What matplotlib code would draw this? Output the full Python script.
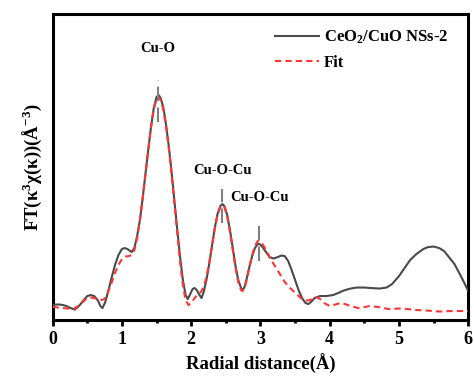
import matplotlib
matplotlib.use("Agg")
import matplotlib.pyplot as plt

plt.rcParams['font.family'] = ['Liberation Serif', 'DejaVu Serif']
plt.rcParams['font.weight'] = 'bold'
plt.rcParams['mathtext.default'] = 'regular'

# Radial distance (Å) and FT magnitude (arbitrary units)
r_exp = [0.0, 0.05, 0.1, 0.15, 0.2, 0.26, 0.32, 0.38, 0.45, 0.5, 0.55, 0.6, 0.65, 0.69, 0.72,
         0.76, 0.8, 0.85, 0.9, 0.95, 1.0, 1.04, 1.08, 1.12, 1.14, 1.18, 1.22, 1.26, 1.30,
         1.34, 1.38, 1.42, 1.46, 1.50, 1.53, 1.56, 1.60, 1.64, 1.68, 1.72, 1.76, 1.80, 1.84,
         1.88, 1.92, 1.95, 1.98, 2.02, 2.05, 2.08, 2.12, 2.15, 2.18, 2.22, 2.26, 2.30, 2.34,
         2.38, 2.42, 2.45, 2.48, 2.52, 2.56, 2.60, 2.64, 2.68, 2.72, 2.74, 2.77, 2.80, 2.84,
         2.88, 2.92, 2.96, 2.99, 3.03, 3.08, 3.13, 3.19, 3.25, 3.30, 3.35, 3.40, 3.45, 3.50,
         3.55, 3.60, 3.65, 3.69, 3.73, 3.78, 3.86, 3.95, 4.05, 4.12, 4.2, 4.3, 4.39, 4.5,
         4.6, 4.72, 4.82, 4.9, 5.0, 5.08, 5.16, 5.25, 5.35, 5.42, 5.5, 5.58, 5.65, 5.72,
         5.8, 5.9, 6.0]
ft_exp = [15, 15.5, 15.5, 15, 14, 12, 10.5, 14, 20, 24, 25, 24, 20, 14, 12,
          18, 28, 42, 55, 65, 71, 72, 71, 69, 68, 72, 84, 100, 122,
          146, 170, 193, 212, 223, 225, 222, 212, 194, 172, 146, 118, 90, 63,
          40, 25, 21, 25, 31, 32, 30, 25, 22, 28, 40, 56, 74, 92,
          106, 114, 116, 114, 105, 90, 72, 54, 40, 32, 30, 33, 41, 53,
          64, 72, 76, 76, 73, 68, 63, 61.5, 63, 64.5, 64, 59, 50, 40,
          30, 22, 17, 16, 18, 22, 24, 24, 25, 27, 29.5, 31.5, 32.5, 32.5,
          32, 31.5, 32.5, 36, 44, 52, 60, 66, 71, 73, 73.5, 72, 69, 63,
          56, 43, 29]

r_fit = [0.0, 0.08, 0.15, 0.22, 0.3, 0.37, 0.45, 0.5, 0.55, 0.6, 0.65, 0.7, 0.75, 0.8,
         0.85, 0.9, 0.95, 1.0, 1.05, 1.1, 1.14, 1.18, 1.22, 1.26, 1.30, 1.34, 1.38, 1.42,
         1.46, 1.50, 1.53, 1.56, 1.60, 1.64, 1.68, 1.72, 1.76, 1.80, 1.84, 1.88, 1.92, 1.96,
         2.0, 2.05, 2.1, 2.14, 2.18, 2.22, 2.26, 2.30, 2.34, 2.38, 2.42, 2.45, 2.48, 2.52,
         2.56, 2.60, 2.64, 2.68, 2.72, 2.74, 2.77, 2.80, 2.84, 2.88, 2.92, 2.96, 2.99, 3.03,
         3.08, 3.14, 3.2, 3.28, 3.35, 3.43, 3.52, 3.6, 3.66, 3.72, 3.77, 3.81, 3.86, 3.92,
         4.0, 4.08, 4.15, 4.22, 4.3, 4.41, 4.5, 4.58, 4.7, 4.85, 5.0, 5.12, 5.26, 5.4,
         5.59, 5.75, 5.93, 6.0]
ft_fit = [13, 12.5, 12, 11.5, 11, 14, 19, 22, 22.5, 22, 21, 20, 21, 28,
          37, 47, 55, 61, 63.5, 64, 65, 70, 82, 100, 122, 146, 170, 193,
          211, 221, 223, 220, 210, 192, 170, 144, 115, 86, 58, 35, 20, 15,
          17, 22, 26, 28, 33, 43, 57, 74, 91, 105, 113, 115, 113, 104,
          88, 70, 52, 38, 30, 29, 32, 40, 53, 65, 74, 79, 79, 76,
          70, 62, 55, 46, 38, 32, 26, 21, 19.5, 20, 22, 23, 21, 17,
          14, 15.5, 17, 16, 14, 12, 13, 14, 13, 11, 11.5, 11, 10, 9.5,
          8.5, 9, 9, 9]

# Peak markers: position, low and high of marker, label, label position
mark_r = [1.52, 2.45, 2.98]
mark_lo = [198, 97, 59]
mark_hi = [240, 131, 94]
lab_text = ['Cu-O', 'Cu-O-Cu', 'Cu-O-Cu']
lab_r = [1.515, 2.445, 2.99]
lab_y = [272, 150, 123]

fig = plt.figure(figsize=(4.74, 3.81), dpi=100)
ax = fig.add_axes([0.111, 0.160, 0.877, 0.803])

ax.plot(r_exp, ft_exp, color='#4a4a4a', lw=1.5, label='CeO$_2$/CuO NSs-2', zorder=3)
ax.plot(r_fit, ft_fit, color='#ff3535', lw=1.5, ls=(0, (3, 2)), label='Fit', zorder=4)

for xr, lo, hi in zip(mark_r, mark_lo, mark_hi):
    ax.plot([xr, xr], [lo, hi], color='#808080', lw=1.5, ls=(0, (7, 3)), zorder=5)
for t, xr, yy in zip(lab_text, lab_r, lab_y):
    ax.text(xr, yy, t, ha='center', va='center', fontsize=10.5, fontweight='bold')

ax.set_xlim(0, 6)
ax.set_ylim(0, 306)
ax.set_xticks([0, 1, 2, 3, 4, 5, 6])
ax.set_xticks([0.5, 1.5, 2.5, 3.5, 4.5, 5.5], minor=True)
ax.set_yticks([])
ax.tick_params(axis='x', which='major', direction='out', length=4, width=2, labelsize=13, pad=4)
ax.tick_params(axis='x', which='minor', direction='out', length=2.5, width=2)
for lab in ax.get_xticklabels():
    lab.set_fontweight('bold')
for s in ax.spines.values():
    s.set_linewidth(2.2)

ax.set_xlabel('Radial distance(Å)', fontsize=13.5, fontweight='bold', labelpad=4)
ax.set_ylabel('FT(κ$^3$χ(κ))(Å$^{-3}$)', fontsize=13.5, fontweight='bold', labelpad=6)

leg = ax.legend(loc='upper right', bbox_to_anchor=(0.98, 0.99), frameon=False, fontsize=12,
                handlelength=2.6, handletextpad=0.3, borderaxespad=0.3, labelspacing=0.5)
for t in leg.get_texts():
    t.set_fontweight('bold')

fig.savefig('out.png', dpi=100)
